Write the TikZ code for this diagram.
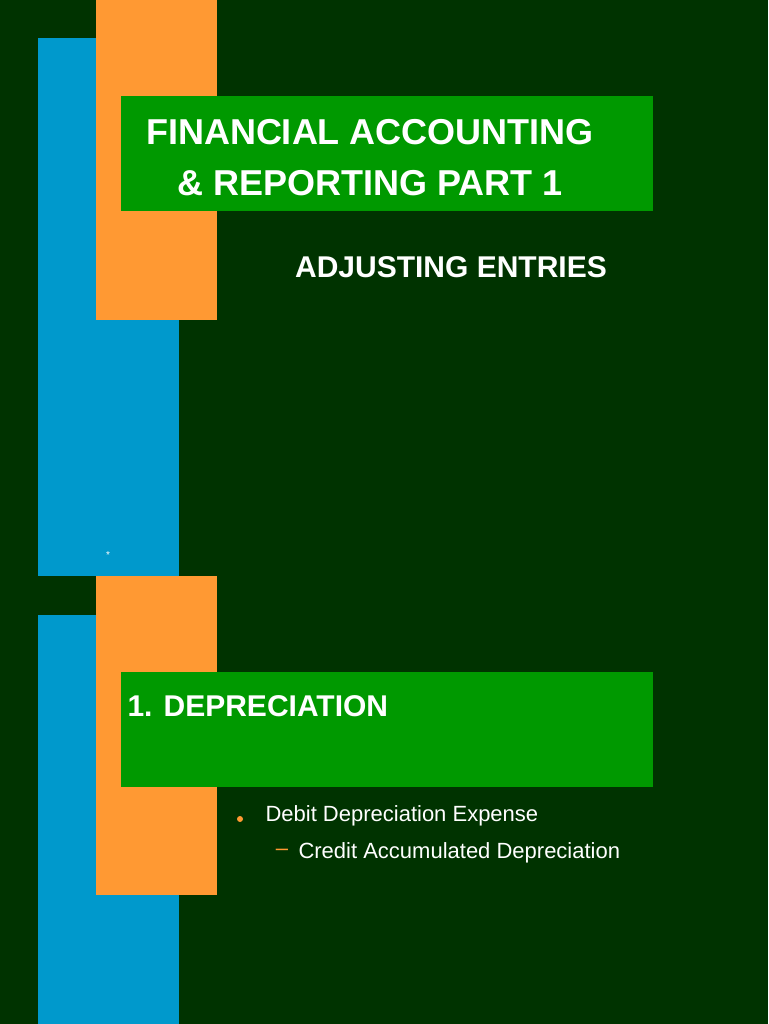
\documentclass[tikz,border=0pt]{standalone}
\usepackage{fontspec}
\setmainfont{Liberation Sans}
\definecolor{bg}{HTML}{003300}
\definecolor{sblue}{HTML}{0099CC}
\definecolor{sorange}{HTML}{FF9933}
\definecolor{sgreen}{HTML}{009900}
\begin{document}
\begin{tikzpicture}[x=1pt,y=-1pt,
  title/.style={text=white,font=\fontsize{36}{40}\selectfont\bfseries,align=center},
  body/.style={text=white,font=\fontsize{22}{26}\selectfont,anchor=west}]
\fill[bg] (0,0) rectangle (768,1024);
\useasboundingbox (0,0) rectangle (768,1024);
% slide 1
\fill[sblue] (38,38) rectangle (179,576);
\fill[sorange] (96,0) rectangle (217,320);
\fill[sgreen] (121,96) rectangle (653,211);
\node[title] (t1) at (370,132) {FINANCIAL ACCOUNTING};
\node[title] (t2) at (370,183) {\& REPORTING PART 1};
\node[text=white,font=\fontsize{30}{34}\selectfont\bfseries] (sub) at (451,267) {ADJUSTING ENTRIES};
\node[text=white,font=\fontsize{10}{12}\selectfont] (ast) at (108,555) {*};
% slide 2
\fill[sblue] (38,615) rectangle (179,1024);
\fill[sorange] (96,576) rectangle (217,895);
\fill[sgreen] (121,672) rectangle (653,787);
\node[title,anchor=west,font=\fontsize{30}{34}\selectfont\bfseries] (dep) at (124,706) {1. DEPRECIATION};
\fill[sorange] (240,819) circle (3);
\node[body] (b1) at (262,816) {Debit Depreciation Expense};
\node[text=sorange,font=\fontsize{22}{26}\selectfont] (dash) at (282,852) {--};
\node[body] (b2) at (295,853) {Credit Accumulated Depreciation};
\end{tikzpicture}
\end{document}
